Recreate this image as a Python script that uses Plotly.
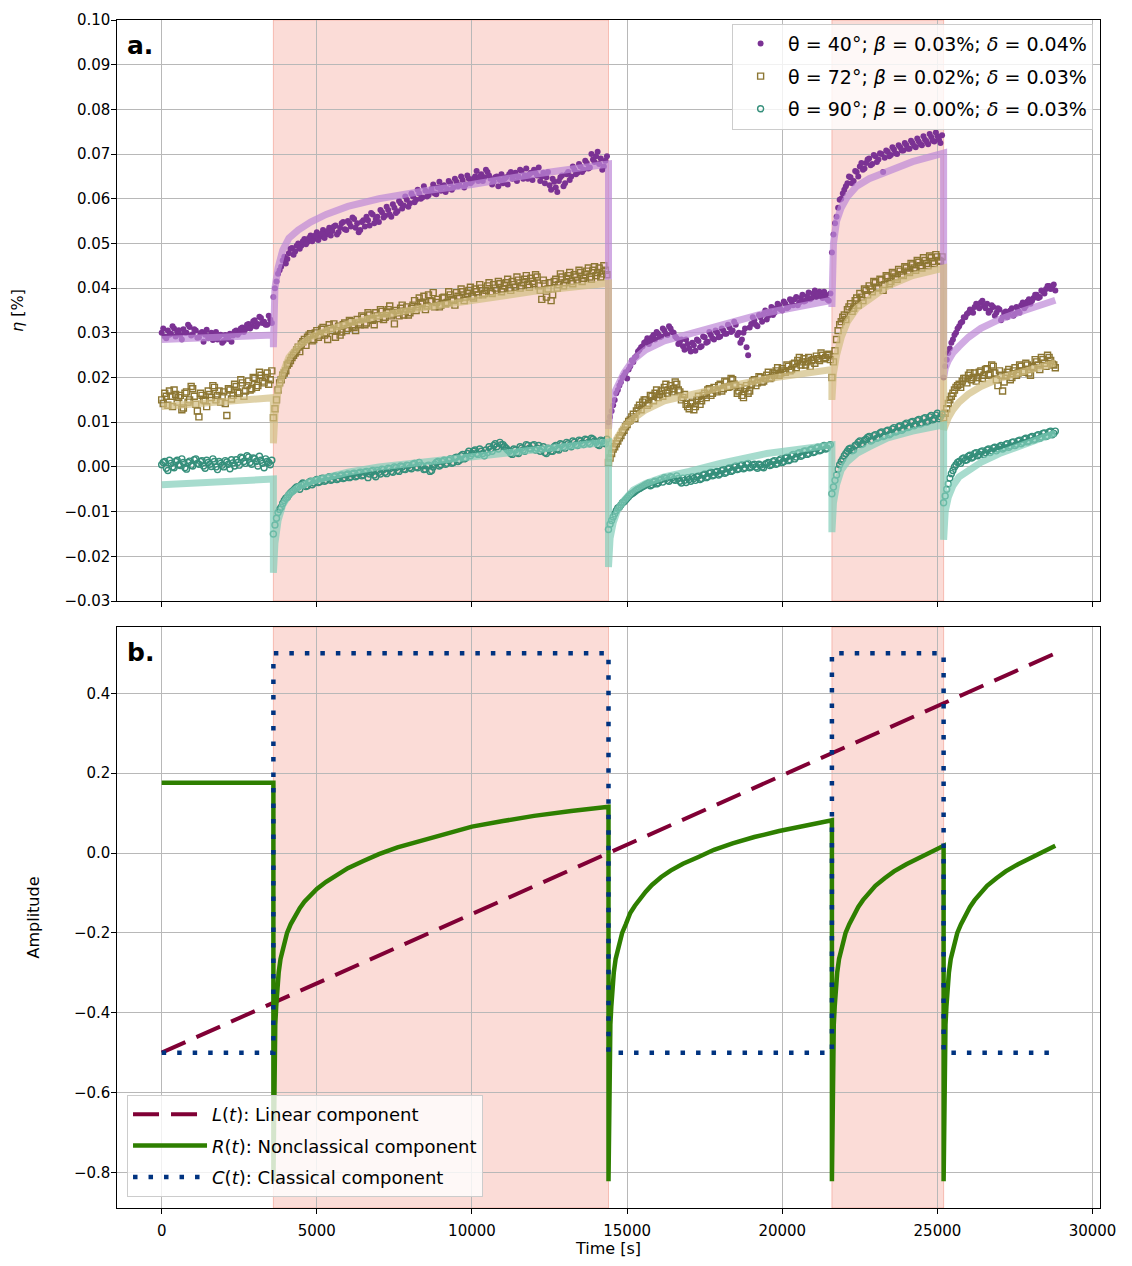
import plotly.graph_objects as go
from plotly.subplots import make_subplots

# ---------------- data ----------------
time_s = list(range(0, 28801, 100))      # sampling grid A
time_s_b = list(range(50, 28800, 100))   # sampling grid B (interleaved readings)

eta_40 = [
    0.0300, 0.0292, 0.0305, 0.0298, 0.0310, 0.0302, 0.0295, 0.0308, 0.0300, 0.0313, 0.0297, 0.0305,
    0.0290, 0.0302, 0.0296, 0.0288, 0.0300, 0.0293, 0.0285, 0.0296, 0.0282, 0.0290, 0.0298, 0.0294,
    0.0305, 0.0300, 0.0312, 0.0308, 0.0320, 0.0315, 0.0328, 0.0320, 0.0333, 0.0325, 0.0318, 0.0330,
    0.0380, 0.0415, 0.0440, 0.0462, 0.0455, 0.0478, 0.0490, 0.0482, 0.0500, 0.0495, 0.0510, 0.0503,
    0.0518, 0.0510, 0.0525, 0.0515, 0.0530, 0.0520, 0.0535, 0.0528, 0.0540, 0.0525, 0.0545, 0.0532,
    0.0550, 0.0538, 0.0555, 0.0545, 0.0530, 0.0552, 0.0560, 0.0540, 0.0565, 0.0555, 0.0548, 0.0570,
    0.0562, 0.0575, 0.0560, 0.0580, 0.0572, 0.0590, 0.0585, 0.0598, 0.0590, 0.0605, 0.0598, 0.0612,
    0.0603, 0.0618, 0.0608, 0.0622, 0.0612, 0.0625, 0.0618, 0.0630, 0.0622, 0.0635, 0.0625, 0.0638,
    0.0630, 0.0642, 0.0632, 0.0645, 0.0638, 0.0650, 0.0640, 0.0655, 0.0648, 0.0660, 0.0645, 0.0638,
    0.0650, 0.0642, 0.0635, 0.0648, 0.0655, 0.0645, 0.0658, 0.0650, 0.0662, 0.0652, 0.0645, 0.0658,
    0.0665, 0.0652, 0.0640, 0.0658, 0.0648, 0.0630, 0.0645, 0.0625, 0.0640, 0.0652, 0.0635, 0.0660,
    0.0650, 0.0665, 0.0658, 0.0672, 0.0665, 0.0680, 0.0670, 0.0688, 0.0695, 0.0678, 0.0665, 0.0685,
    0.0100, 0.0125, 0.0150, 0.0172, 0.0190, 0.0205, 0.0198, 0.0225, 0.0235, 0.0248, 0.0262, 0.0270,
    0.0280, 0.0275, 0.0290, 0.0285, 0.0298, 0.0292, 0.0305, 0.0295, 0.0310, 0.0300, 0.0288, 0.0280,
    0.0270, 0.0285, 0.0265, 0.0278, 0.0260, 0.0282, 0.0270, 0.0290, 0.0280, 0.0295, 0.0285, 0.0300,
    0.0292, 0.0305, 0.0298, 0.0312, 0.0305, 0.0318, 0.0300, 0.0285, 0.0310, 0.0250, 0.0320, 0.0328,
    0.0315, 0.0335, 0.0342, 0.0330, 0.0348, 0.0340, 0.0355, 0.0362, 0.0350, 0.0365, 0.0358, 0.0370,
    0.0375, 0.0362, 0.0378, 0.0370, 0.0382, 0.0375, 0.0388, 0.0380, 0.0392, 0.0378, 0.0385, 0.0372,
    0.0480, 0.0545, 0.0580, 0.0600, 0.0620, 0.0635, 0.0648, 0.0640, 0.0660, 0.0672, 0.0665, 0.0680,
    0.0690, 0.0678, 0.0695, 0.0688, 0.0700, 0.0692, 0.0705, 0.0698, 0.0710, 0.0700, 0.0715, 0.0708,
    0.0720, 0.0712, 0.0725, 0.0715, 0.0728, 0.0720, 0.0732, 0.0722, 0.0738, 0.0728, 0.0740, 0.0725,
    0.0200, 0.0240, 0.0265, 0.0285, 0.0300, 0.0315, 0.0325, 0.0335, 0.0345, 0.0350, 0.0358, 0.0362,
    0.0368, 0.0360, 0.0365, 0.0350, 0.0358, 0.0345, 0.0352, 0.0335, 0.0348, 0.0340, 0.0355, 0.0342,
    0.0350, 0.0362, 0.0355, 0.0370, 0.0365, 0.0378, 0.0385, 0.0380, 0.0392, 0.0398, 0.0405, 0.0400,
    0.0395,
]
eta_40_b = [
    0.0310, 0.0288, 0.0296, 0.0315, 0.0292, 0.0306, 0.0285, 0.0300, 0.0318, 0.0294, 0.0308, 0.0289,
    0.0299, 0.0280, 0.0307, 0.0293, 0.0284, 0.0302, 0.0292, 0.0278, 0.0295, 0.0286, 0.0280, 0.0303,
    0.0296, 0.0310, 0.0302, 0.0318, 0.0310, 0.0326, 0.0314, 0.0336, 0.0322, 0.0318, 0.0338, 0.0322,
    0.0400, 0.0432, 0.0448, 0.0470, 0.0465, 0.0488, 0.0475, 0.0495, 0.0488, 0.0505, 0.0498, 0.0512,
    0.0505, 0.0518, 0.0508, 0.0522, 0.0512, 0.0528, 0.0518, 0.0538, 0.0520, 0.0535, 0.0548, 0.0530,
    0.0545, 0.0558, 0.0535, 0.0525, 0.0548, 0.0538, 0.0552, 0.0568, 0.0545, 0.0560, 0.0575, 0.0558,
    0.0582, 0.0565, 0.0588, 0.0568, 0.0595, 0.0578, 0.0605, 0.0582, 0.0612, 0.0592, 0.0620, 0.0600,
    0.0628, 0.0605, 0.0615, 0.0632, 0.0610, 0.0638, 0.0628, 0.0615, 0.0640, 0.0620, 0.0645, 0.0628,
    0.0650, 0.0625, 0.0652, 0.0635, 0.0645, 0.0662, 0.0650, 0.0640, 0.0665, 0.0652, 0.0632, 0.0648,
    0.0628, 0.0655, 0.0645, 0.0632, 0.0660, 0.0652, 0.0640, 0.0665, 0.0645, 0.0668, 0.0655, 0.0642,
    0.0658, 0.0670, 0.0650, 0.0635, 0.0660, 0.0620, 0.0638, 0.0615, 0.0648, 0.0628, 0.0655, 0.0642,
    0.0672, 0.0655, 0.0678, 0.0660, 0.0685, 0.0668, 0.0700, 0.0682, 0.0705, 0.0690, 0.0672, 0.0695,
    0.0112, 0.0138, 0.0165, 0.0182, 0.0200, 0.0212, 0.0218, 0.0238, 0.0245, 0.0258, 0.0268, 0.0278,
    0.0288, 0.0282, 0.0295, 0.0302, 0.0290, 0.0310, 0.0298, 0.0315, 0.0302, 0.0292, 0.0275, 0.0285,
    0.0262, 0.0275, 0.0258, 0.0272, 0.0285, 0.0268, 0.0292, 0.0278, 0.0302, 0.0288, 0.0305, 0.0290,
    0.0310, 0.0298, 0.0318, 0.0302, 0.0325, 0.0295, 0.0278, 0.0300, 0.0268, 0.0312, 0.0335, 0.0318,
    0.0340, 0.0325, 0.0350, 0.0338, 0.0358, 0.0345, 0.0365, 0.0352, 0.0370, 0.0355, 0.0375, 0.0362,
    0.0380, 0.0368, 0.0385, 0.0372, 0.0390, 0.0378, 0.0395, 0.0385, 0.0382, 0.0392, 0.0375, 0.0388,
    0.0520, 0.0560, 0.0598, 0.0612, 0.0628, 0.0650, 0.0635, 0.0662, 0.0650, 0.0680, 0.0668, 0.0688,
    0.0675, 0.0698, 0.0682, 0.0702, 0.0660, 0.0708, 0.0695, 0.0715, 0.0702, 0.0720, 0.0708, 0.0725,
    0.0712, 0.0730, 0.0718, 0.0735, 0.0722, 0.0740, 0.0728, 0.0745, 0.0730, 0.0748, 0.0732, 0.0742,
    0.0225, 0.0255, 0.0278, 0.0295, 0.0310, 0.0322, 0.0335, 0.0342, 0.0352, 0.0345, 0.0365, 0.0355,
    0.0372, 0.0355, 0.0345, 0.0362, 0.0338, 0.0355, 0.0328, 0.0345, 0.0335, 0.0350, 0.0338, 0.0358,
    0.0345, 0.0368, 0.0360, 0.0375, 0.0372, 0.0385, 0.0378, 0.0395, 0.0388, 0.0405, 0.0398, 0.0408,
]

eta_72 = [
    0.0150, 0.0165, 0.0138, 0.0158, 0.0172, 0.0145, 0.0160, 0.0132, 0.0168, 0.0150, 0.0175, 0.0140,
    0.0112, 0.0160, 0.0148, 0.0170, 0.0155, 0.0178, 0.0160, 0.0145, 0.0168, 0.0115, 0.0172, 0.0160,
    0.0180, 0.0165, 0.0188, 0.0170, 0.0192, 0.0175, 0.0198, 0.0182, 0.0205, 0.0188, 0.0210, 0.0195,
    0.0110, 0.0150, 0.0188, 0.0205, 0.0215, 0.0232, 0.0245, 0.0255, 0.0268, 0.0275, 0.0285, 0.0290,
    0.0298, 0.0285, 0.0305, 0.0295, 0.0312, 0.0300, 0.0318, 0.0305, 0.0290, 0.0315, 0.0302, 0.0322,
    0.0310, 0.0325, 0.0312, 0.0330, 0.0318, 0.0335, 0.0322, 0.0340, 0.0328, 0.0345, 0.0332, 0.0348,
    0.0335, 0.0352, 0.0338, 0.0320, 0.0345, 0.0355, 0.0340, 0.0358, 0.0345, 0.0362, 0.0350, 0.0378,
    0.0365, 0.0352, 0.0385, 0.0370, 0.0358, 0.0375, 0.0362, 0.0380, 0.0368, 0.0385, 0.0372, 0.0390,
    0.0378, 0.0392, 0.0380, 0.0395, 0.0382, 0.0398, 0.0385, 0.0400, 0.0388, 0.0405, 0.0392, 0.0408,
    0.0395, 0.0410, 0.0398, 0.0412, 0.0400, 0.0415, 0.0402, 0.0418, 0.0405, 0.0420, 0.0408, 0.0422,
    0.0410, 0.0425, 0.0395, 0.0418, 0.0380, 0.0412, 0.0385, 0.0420, 0.0408, 0.0425, 0.0412, 0.0428,
    0.0415, 0.0430, 0.0418, 0.0435, 0.0422, 0.0438, 0.0425, 0.0440, 0.0428, 0.0445, 0.0432, 0.0440,
    0.0010, 0.0030, 0.0045, 0.0058, 0.0070, 0.0082, 0.0095, 0.0105, 0.0118, 0.0125, 0.0138, 0.0145,
    0.0150, 0.0142, 0.0158, 0.0165, 0.0155, 0.0170, 0.0178, 0.0165, 0.0182, 0.0175, 0.0185, 0.0168,
    0.0155, 0.0140, 0.0130, 0.0145, 0.0135, 0.0158, 0.0148, 0.0165, 0.0172, 0.0160, 0.0178, 0.0168,
    0.0185, 0.0175, 0.0190, 0.0180, 0.0195, 0.0182, 0.0170, 0.0160, 0.0175, 0.0165, 0.0185, 0.0195,
    0.0188, 0.0200, 0.0192, 0.0205, 0.0198, 0.0210, 0.0215, 0.0205, 0.0220, 0.0212, 0.0225, 0.0218,
    0.0232, 0.0238, 0.0228, 0.0242, 0.0235, 0.0225, 0.0240, 0.0248, 0.0238, 0.0250, 0.0245, 0.0252,
    0.0200, 0.0260, 0.0305, 0.0325, 0.0340, 0.0352, 0.0365, 0.0355, 0.0378, 0.0388, 0.0372, 0.0395,
    0.0405, 0.0392, 0.0412, 0.0400, 0.0418, 0.0408, 0.0425, 0.0415, 0.0432, 0.0420, 0.0438, 0.0428,
    0.0445, 0.0435, 0.0452, 0.0440, 0.0458, 0.0445, 0.0462, 0.0450, 0.0468, 0.0455, 0.0470, 0.0460,
    0.0110, 0.0130, 0.0150, 0.0165, 0.0178, 0.0185, 0.0192, 0.0198, 0.0205, 0.0195, 0.0210, 0.0200,
    0.0215, 0.0205, 0.0220, 0.0208, 0.0225, 0.0195, 0.0215, 0.0170, 0.0205, 0.0218, 0.0200, 0.0222,
    0.0210, 0.0225, 0.0212, 0.0228, 0.0205, 0.0222, 0.0235, 0.0218, 0.0240, 0.0225, 0.0245, 0.0230,
    0.0222,
]
eta_72_b = [
    0.0142, 0.0158, 0.0170, 0.0135, 0.0162, 0.0155, 0.0128, 0.0165, 0.0145, 0.0180, 0.0158, 0.0125,
    0.0165, 0.0150, 0.0135, 0.0162, 0.0182, 0.0150, 0.0170, 0.0158, 0.0142, 0.0175, 0.0152, 0.0185,
    0.0168, 0.0195, 0.0158, 0.0182, 0.0172, 0.0200, 0.0178, 0.0212, 0.0192, 0.0200, 0.0185, 0.0215,
    0.0130, 0.0172, 0.0195, 0.0210, 0.0228, 0.0238, 0.0250, 0.0262, 0.0258, 0.0280, 0.0272, 0.0295,
    0.0282, 0.0300, 0.0290, 0.0308, 0.0295, 0.0285, 0.0310, 0.0320, 0.0305, 0.0295, 0.0318, 0.0305,
    0.0328, 0.0315, 0.0305, 0.0322, 0.0338, 0.0318, 0.0345, 0.0330, 0.0318, 0.0338, 0.0352, 0.0330,
    0.0345, 0.0360, 0.0342, 0.0350, 0.0338, 0.0362, 0.0348, 0.0340, 0.0355, 0.0372, 0.0358, 0.0368,
    0.0382, 0.0360, 0.0372, 0.0390, 0.0368, 0.0358, 0.0378, 0.0365, 0.0392, 0.0375, 0.0362, 0.0382,
    0.0398, 0.0372, 0.0388, 0.0402, 0.0378, 0.0392, 0.0408, 0.0385, 0.0395, 0.0412, 0.0388, 0.0400,
    0.0415, 0.0392, 0.0405, 0.0420, 0.0395, 0.0408, 0.0425, 0.0400, 0.0412, 0.0428, 0.0402, 0.0415,
    0.0430, 0.0405, 0.0375, 0.0410, 0.0398, 0.0372, 0.0415, 0.0400, 0.0432, 0.0405, 0.0420, 0.0435,
    0.0410, 0.0425, 0.0440, 0.0415, 0.0430, 0.0445, 0.0420, 0.0448, 0.0435, 0.0425, 0.0450, 0.0430,
    0.0020, 0.0040, 0.0052, 0.0065, 0.0078, 0.0090, 0.0102, 0.0112, 0.0108, 0.0132, 0.0128, 0.0150,
    0.0138, 0.0160, 0.0148, 0.0172, 0.0162, 0.0158, 0.0185, 0.0172, 0.0168, 0.0190, 0.0172, 0.0150,
    0.0162, 0.0135, 0.0142, 0.0128, 0.0150, 0.0140, 0.0160, 0.0155, 0.0175, 0.0165, 0.0172, 0.0182,
    0.0170, 0.0192, 0.0178, 0.0198, 0.0185, 0.0165, 0.0178, 0.0155, 0.0182, 0.0170, 0.0192, 0.0182,
    0.0202, 0.0190, 0.0198, 0.0212, 0.0200, 0.0205, 0.0222, 0.0210, 0.0215, 0.0228, 0.0215, 0.0230,
    0.0222, 0.0245, 0.0235, 0.0228, 0.0245, 0.0238, 0.0232, 0.0242, 0.0255, 0.0242, 0.0250, 0.0240,
    0.0235, 0.0285, 0.0318, 0.0335, 0.0330, 0.0358, 0.0348, 0.0372, 0.0362, 0.0380, 0.0398, 0.0385,
    0.0398, 0.0415, 0.0402, 0.0420, 0.0395, 0.0428, 0.0410, 0.0435, 0.0425, 0.0442, 0.0430, 0.0448,
    0.0438, 0.0455, 0.0445, 0.0462, 0.0450, 0.0468, 0.0455, 0.0472, 0.0460, 0.0475, 0.0462, 0.0470,
    0.0120, 0.0142, 0.0158, 0.0172, 0.0182, 0.0178, 0.0198, 0.0188, 0.0210, 0.0200, 0.0192, 0.0212,
    0.0198, 0.0218, 0.0205, 0.0228, 0.0210, 0.0182, 0.0205, 0.0190, 0.0212, 0.0195, 0.0215, 0.0205,
    0.0228, 0.0215, 0.0232, 0.0210, 0.0225, 0.0240, 0.0228, 0.0245, 0.0232, 0.0250, 0.0238, 0.0228,
]

eta_90 = [
    0.0005, 0.0012, -0.0008, 0.0008, -0.0002, 0.0015, 0.0003, 0.0010, -0.0005, 0.0013, 0.0002, 0.0018,
    0.0006, 0.0014, -0.0003, 0.0010, 0.0001, 0.0012, -0.0006, 0.0008, 0.0000, 0.0011, -0.0004, 0.0009,
    0.0016, 0.0004, 0.0020, 0.0008, 0.0022, 0.0006, 0.0018, 0.0002, 0.0015, -0.0002, 0.0012, 0.0005,
    -0.0150, -0.0115, -0.0095, -0.0082, -0.0070, -0.0062, -0.0055, -0.0048, -0.0045, -0.0040, -0.0038, -0.0042,
    -0.0032, -0.0036, -0.0028, -0.0033, -0.0025, -0.0030, -0.0022, -0.0028, -0.0020, -0.0026, -0.0018, -0.0024,
    -0.0016, -0.0022, -0.0014, -0.0020, -0.0012, -0.0018, -0.0010, -0.0016, -0.0008, -0.0022, -0.0012, -0.0005,
    -0.0012, -0.0003, -0.0010, 0.0000, -0.0008, 0.0002, -0.0005, 0.0004, -0.0002, 0.0006, 0.0000, 0.0010,
    0.0002, -0.0005, 0.0004, -0.0008, 0.0006, 0.0012, 0.0005, 0.0015, 0.0008, 0.0018, 0.0010, 0.0022,
    0.0015, 0.0028, 0.0020, 0.0035, 0.0030, 0.0038, 0.0028, 0.0035, 0.0025, 0.0032, 0.0040, 0.0048,
    0.0045, 0.0055, 0.0050, 0.0042, 0.0035, 0.0028, 0.0038, 0.0030, 0.0042, 0.0035, 0.0048, 0.0040,
    0.0050, 0.0042, 0.0035, 0.0045, 0.0030, 0.0040, 0.0035, 0.0048, 0.0038, 0.0050, 0.0042, 0.0052,
    0.0045, 0.0055, 0.0048, 0.0058, 0.0050, 0.0060, 0.0052, 0.0062, 0.0055, 0.0048, 0.0058, 0.0052,
    -0.0140, -0.0120, -0.0105, -0.0092, -0.0085, -0.0078, -0.0070, -0.0062, -0.0058, -0.0052, -0.0048, -0.0044,
    -0.0040, -0.0036, -0.0040, -0.0032, -0.0036, -0.0028, -0.0024, -0.0030, -0.0022, -0.0028, -0.0020, -0.0032,
    -0.0025, -0.0035, -0.0028, -0.0022, -0.0030, -0.0020, -0.0026, -0.0016, -0.0022, -0.0012, -0.0018, -0.0010,
    -0.0015, -0.0006, -0.0012, -0.0002, -0.0008, 0.0002, -0.0004, 0.0005, -0.0002, 0.0008, 0.0000, 0.0006,
    -0.0003, 0.0004, -0.0002, 0.0008, 0.0003, 0.0012, 0.0006, 0.0015, 0.0010, 0.0020, 0.0014, 0.0025,
    0.0018, 0.0030, 0.0024, 0.0035, 0.0028, 0.0038, 0.0032, 0.0042, 0.0036, 0.0046, 0.0040, 0.0048,
    -0.0060, -0.0030, -0.0005, 0.0012, 0.0025, 0.0035, 0.0042, 0.0038, 0.0050, 0.0058, 0.0052, 0.0062,
    0.0068, 0.0060, 0.0072, 0.0066, 0.0078, 0.0070, 0.0082, 0.0075, 0.0088, 0.0080, 0.0092, 0.0085,
    0.0098, 0.0090, 0.0102, 0.0095, 0.0106, 0.0098, 0.0110, 0.0102, 0.0115, 0.0108, 0.0120, 0.0112,
    -0.0080, -0.0050, -0.0025, -0.0008, 0.0005, 0.0012, 0.0018, 0.0015, 0.0024, 0.0020, 0.0030, 0.0025,
    0.0034, 0.0028, 0.0038, 0.0032, 0.0042, 0.0036, 0.0045, 0.0040, 0.0050, 0.0044, 0.0055, 0.0048,
    0.0058, 0.0052, 0.0062, 0.0056, 0.0066, 0.0060, 0.0070, 0.0064, 0.0075, 0.0068, 0.0078, 0.0072,
    0.0080,
]
eta_90_b = [
    0.0010, -0.0003, 0.0015, 0.0000, 0.0012, 0.0005, 0.0018, -0.0002, 0.0010, 0.0004, 0.0016, 0.0008,
    0.0012, 0.0002, 0.0015, 0.0006, 0.0018, 0.0000, 0.0012, 0.0004, 0.0014, 0.0006, 0.0016, 0.0002,
    0.0010, 0.0022, 0.0012, 0.0025, 0.0010, 0.0020, 0.0012, 0.0024, 0.0008, 0.0018, 0.0010, 0.0015,
    -0.0130, -0.0102, -0.0090, -0.0075, -0.0068, -0.0058, -0.0052, -0.0045, -0.0050, -0.0036, -0.0044, -0.0034,
    -0.0040, -0.0030, -0.0035, -0.0026, -0.0032, -0.0024, -0.0030, -0.0022, -0.0028, -0.0020, -0.0026, -0.0018,
    -0.0024, -0.0016, -0.0022, -0.0014, -0.0020, -0.0012, -0.0024, -0.0010, -0.0018, -0.0008, -0.0016, -0.0006,
    -0.0015, -0.0004, -0.0012, -0.0002, -0.0010, 0.0000, -0.0006, 0.0003, -0.0004, 0.0008, -0.0002, 0.0004,
    -0.0006, 0.0002, -0.0010, 0.0000, 0.0010, 0.0002, 0.0012, 0.0006, 0.0015, 0.0008, 0.0020, 0.0012,
    0.0025, 0.0018, 0.0030, 0.0025, 0.0035, 0.0030, 0.0040, 0.0030, 0.0038, 0.0045, 0.0035, 0.0052,
    0.0040, 0.0050, 0.0045, 0.0038, 0.0030, 0.0040, 0.0032, 0.0045, 0.0038, 0.0050, 0.0042, 0.0048,
    0.0038, 0.0048, 0.0040, 0.0032, 0.0042, 0.0035, 0.0045, 0.0040, 0.0052, 0.0045, 0.0055, 0.0048,
    0.0058, 0.0050, 0.0060, 0.0053, 0.0062, 0.0055, 0.0064, 0.0058, 0.0050, 0.0060, 0.0054, 0.0062,
    -0.0128, -0.0112, -0.0098, -0.0090, -0.0080, -0.0074, -0.0066, -0.0060, -0.0055, -0.0050, -0.0046, -0.0042,
    -0.0038, -0.0042, -0.0034, -0.0038, -0.0030, -0.0034, -0.0026, -0.0032, -0.0024, -0.0030, -0.0026, -0.0036,
    -0.0030, -0.0024, -0.0032, -0.0026, -0.0022, -0.0028, -0.0018, -0.0024, -0.0014, -0.0020, -0.0012, -0.0018,
    -0.0008, -0.0014, -0.0004, -0.0010, 0.0000, -0.0006, 0.0003, -0.0004, 0.0006, -0.0002, 0.0004, 0.0000,
    0.0006, 0.0000, 0.0006, 0.0010, 0.0005, 0.0014, 0.0008, 0.0018, 0.0012, 0.0022, 0.0016, 0.0028,
    0.0022, 0.0032, 0.0026, 0.0036, 0.0030, 0.0040, 0.0034, 0.0044, 0.0038, 0.0048, 0.0042, 0.0050,
    -0.0045, -0.0018, 0.0005, 0.0018, 0.0030, 0.0040, 0.0036, 0.0048, 0.0055, 0.0050, 0.0060, 0.0066,
    0.0058, 0.0070, 0.0064, 0.0076, 0.0068, 0.0080, 0.0072, 0.0085, 0.0078, 0.0090, 0.0082, 0.0095,
    0.0088, 0.0100, 0.0092, 0.0104, 0.0096, 0.0108, 0.0100, 0.0112, 0.0105, 0.0116, 0.0108, 0.0118,
    -0.0065, -0.0038, -0.0015, 0.0000, 0.0010, 0.0008, 0.0020, 0.0016, 0.0026, 0.0022, 0.0032, 0.0028,
    0.0036, 0.0032, 0.0040, 0.0036, 0.0044, 0.0040, 0.0048, 0.0043, 0.0052, 0.0047, 0.0056, 0.0051,
    0.0060, 0.0055, 0.0064, 0.0058, 0.0068, 0.0062, 0.0072, 0.0067, 0.0076, 0.0070, 0.0080, 0.0075,
]

fit_t = [0, 3600, 3600, 3650, 3750, 3820, 3900, 4100, 4400, 4800, 5300, 6000, 7000, 8500, 10000, 12000, 14400,
         14400, 14450, 14550, 14700, 14900, 15200, 15600, 16200, 17000, 18000, 19500, 21600,
         21600, 21650, 21750, 21900, 22100, 22400, 22800, 23400, 24200, 25200,
         25200, 25250, 25350, 25500, 25700, 26000, 26400, 27000, 27800, 28800]

fit_40 = [0.0285, 0.0295, 0.0268, 0.0400, 0.0445, 0.0470, 0.0485, 0.0512, 0.0530, 0.0548, 0.0565, 0.0583, 0.0600, 0.0618, 0.0632, 0.0655, 0.0678,
          0.0085, 0.0130, 0.0160, 0.0185, 0.0210, 0.0240, 0.0262, 0.0282, 0.0298, 0.0318, 0.0345, 0.0373,
          0.0358, 0.0500, 0.0550, 0.0580, 0.0605, 0.0628, 0.0645, 0.0660, 0.0683, 0.0702,
          0.0200, 0.0220, 0.0238, 0.0255, 0.0270, 0.0290, 0.0310, 0.0330, 0.0350, 0.0373]

fit_72 = [0.0135, 0.0155, 0.0053, 0.0120, 0.0170, 0.0195, 0.0210, 0.0245, 0.0270, 0.0290, 0.0305, 0.0320, 0.0338, 0.0357, 0.0373, 0.0393, 0.0411,
          0.0005, 0.0030, 0.0050, 0.0068, 0.0090, 0.0108, 0.0128, 0.0148, 0.0162, 0.0177, 0.0197, 0.0218,
          0.0150, 0.0210, 0.0250, 0.0290, 0.0325, 0.0355, 0.0375, 0.0405, 0.0428, 0.0445,
          0.0083, 0.0095, 0.0110, 0.0128, 0.0145, 0.0163, 0.0180, 0.0198, 0.0215, 0.0233]

fit_90 = [-0.0040, -0.0027, -0.0237, -0.0170, -0.0120, -0.0097, -0.0085, -0.0062, -0.0045, -0.0033, -0.0024, -0.0012, 0.0000, 0.0012, 0.0022, 0.0040, 0.0056,
          -0.0224, -0.0160, -0.0125, -0.0095, -0.0075, -0.0052, -0.0037, -0.0022, -0.0010, 0.0008, 0.0030, 0.0049,
          -0.0146, -0.0080, -0.0040, -0.0007, 0.0012, 0.0030, 0.0045, 0.0065, 0.0080, 0.0094,
          -0.0163, -0.0100, -0.0068, -0.0042, -0.0022, -0.0007, 0.0010, 0.0030, 0.0052, 0.0076]

L_t = [0, 28800]
L_v = [-0.5, 0.5]

R_t = [0, 3600,
       3600, 3615, 3630, 3660, 3690, 3720, 3770, 3830, 3920, 4040, 4160, 4300, 4450, 4600, 4800, 5000,
       5300, 5600, 6000, 6500, 7000, 7600, 8300, 9100, 10000, 11000, 12000, 13200, 14400,
       14400, 14415, 14430, 14460, 14490, 14520, 14570, 14630, 14720, 14840, 14960, 15100, 15250, 15400,
       15600, 15800, 16100, 16400, 16800, 17300, 17800, 18400, 19100, 19900, 20700, 21600,
       21600, 21615, 21630, 21660, 21690, 21720, 21770, 21830, 21920, 22040, 22160, 22300, 22450, 22600,
       22800, 23000, 23300, 23600, 24000, 24500, 25000, 25200,
       25200, 25215, 25230, 25260, 25290, 25320, 25370, 25430, 25520, 25640, 25760, 25900, 26050, 26200,
       26400, 26600, 26900, 27200, 27600, 28100, 28600, 28800]
R_v = [0.176, 0.176,
       -0.822, -0.62, -0.52, -0.43, -0.385, -0.345, -0.300, -0.265, -0.232, -0.200, -0.178, -0.158, -0.138, -0.122, -0.105, -0.090,
       -0.072, -0.056, -0.038, -0.020, -0.003, 0.014, 0.030, 0.047, 0.066, 0.080, 0.093, 0.105, 0.116,
       -0.822, -0.62, -0.52, -0.43, -0.385, -0.345, -0.300, -0.265, -0.232, -0.200, -0.178, -0.150, -0.132, -0.115,
       -0.097, -0.080, -0.060, -0.044, -0.027, -0.010, 0.008, 0.024, 0.040, 0.055, 0.068, 0.082,
       -0.822, -0.62, -0.52, -0.43, -0.385, -0.345, -0.300, -0.265, -0.232, -0.200, -0.178, -0.155, -0.135, -0.118,
       -0.100, -0.082, -0.063, -0.046, -0.028, -0.010, 0.008, 0.018,
       -0.822, -0.62, -0.52, -0.43, -0.385, -0.345, -0.300, -0.265, -0.232, -0.200, -0.178, -0.155, -0.135, -0.118,
       -0.100, -0.082, -0.063, -0.046, -0.028, -0.010, 0.008, 0.018]

C_t = [0, 3600, 3600, 14400, 14400, 21600, 21600, 25200, 25200, 28800]
C_v = [-0.5, -0.5, 0.5, 0.5, -0.5, -0.5, 0.5, 0.5, -0.5, -0.5]

light_on = [(3600, 14400), (21600, 25200)]

labels = ["θ = 40°; <i>β</i> = 0.03%; <i>δ</i> = 0.04%",
          "θ = 72°; <i>β</i> = 0.02%; <i>δ</i> = 0.03%",
          "θ = 90°; <i>β</i> = 0.00%; <i>δ</i> = 0.03%"]

# ---------------- figure ----------------
FONT = "DejaVu Sans"
fig = make_subplots(rows=2, cols=1, shared_xaxes=True, vertical_spacing=26 / 1188)

data_cols = ["#7b3294", "#8c7632", "#358f7b"]
fit_cols = ["rgba(190,135,215,0.7)", "rgba(210,190,130,0.7)", "rgba(130,205,185,0.7)"]
symbols = ["circle", "square-open", "circle-open"]
series = [(eta_40, eta_40_b), (eta_72, eta_72_b), (eta_90, eta_90_b)]
fits = [fit_40, fit_72, fit_90]

for i in range(3):
    mk = dict(color=data_cols[i], size=6, symbol=symbols[i])
    if i > 0:
        mk["line"] = dict(color=data_cols[i], width=1.4)
    fig.add_trace(go.Scatter(x=time_s + time_s_b, y=series[i][0] + series[i][1], mode="markers",
                             marker=mk, name=labels[i], legend="legend", legendgroup=f"g{i}",
                             hoverinfo="skip"), row=1, col=1)
for i in range(3):
    fig.add_trace(go.Scatter(x=fit_t, y=fits[i], mode="lines",
                             line=dict(color=fit_cols[i], width=7),
                             showlegend=False, hoverinfo="skip"), row=1, col=1)

fig.add_trace(go.Scatter(x=L_t, y=L_v, mode="lines", name="<i>L</i>(<i>t</i>): Linear component",
                         line=dict(color="#800035", width=4, dash="26px,12px"),
                         legend="legend2", legendgroup="l1"), row=2, col=1)
fig.add_trace(go.Scatter(x=R_t, y=R_v, mode="lines", name="<i>R</i>(<i>t</i>): Nonclassical component",
                         line=dict(color="#2e7f00", width=4.5),
                         legend="legend2", legendgroup="l2"), row=2, col=1)
fig.add_trace(go.Scatter(x=C_t, y=C_v, mode="lines", name="<i>C</i>(<i>t</i>): Classical component",
                         line=dict(color="#003380", width=4.5, dash="4.5px,11px"),
                         legend="legend2", legendgroup="l3"), row=2, col=1)

for (a, b) in light_on:
    for yref in ["y domain", "y2 domain"]:
        xref = "x" if yref == "y domain" else "x2"
        fig.add_shape(type="rect", x0=a, x1=b, y0=0, y1=1, xref=xref, yref=yref,
                      fillcolor="rgba(240,128,110,0.28)",
                      line=dict(color="rgba(240,128,110,0.45)", width=1), layer="below")

axis_common = dict(showline=True, linecolor="black", linewidth=1.2, mirror=True,
                   ticks="outside", ticklen=4.5, tickwidth=1.1, tickcolor="black",
                   showgrid=True, gridcolor="#b8b8b8", gridwidth=1.2, zeroline=False,
                   automargin=False,
                   tickfont=dict(family=FONT, size=15, color="black"))

fig.update_xaxes(**axis_common)
fig.update_yaxes(**axis_common)

title_font = dict(family=FONT, size=16, color="black")
fig.update_xaxes(range=[-1440, 30240], dtick=5000, tick0=0, tickformat="d", row=1, col=1,
                 showticklabels=False)
fig.update_xaxes(range=[-1440, 30240], dtick=5000, tick0=0, tickformat="d", row=2, col=1,
                 ticklabelstandoff=4,
                 title=dict(text="Time [s]", font=title_font, standoff=12))
fig.update_yaxes(range=[-0.03, 0.10], dtick=0.01, tick0=0, tickformat=".2f", row=1, col=1,
                 domain=[1 - 581 / 1188, 1], ticklabelstandoff=-2,
                 title=dict(text="<i>η</i> [%]", font=title_font, standoff=40))
fig.update_yaxes(range=[-0.889, 0.566], dtick=0.2, tick0=0, tickformat=".1f", row=2, col=1,
                 domain=[0, 581 / 1188], ticklabelstandoff=-2,
                 title=dict(text="Amplitude", font=title_font, standoff=30))

fig.add_annotation(text="<b>a.</b>", xref="x domain", yref="y domain", x=0.008, y=0.985,
                   xanchor="left", yanchor="top", showarrow=False,
                   font=dict(family=FONT, size=25, color="black"))
fig.add_annotation(text="<b>b.</b>", xref="x2 domain", yref="y2 domain", x=0.008, y=0.985,
                   xanchor="left", yanchor="top", showarrow=False,
                   font=dict(family=FONT, size=25, color="black"))

legend_common = dict(bgcolor="rgba(255,255,255,0.8)", bordercolor="#cccccc", borderwidth=1,
                     tracegroupgap=5)

fig.update_layout(
    width=1116, height=1250,
    margin=dict(l=109, r=24, t=12, b=50, autoexpand=False),
    paper_bgcolor="white", plot_bgcolor="white",
    font=dict(family=FONT, size=15, color="black"),
    legend=dict(x=0.993, y=0.997, xanchor="right", yanchor="top", itemwidth=45,
                font=dict(family=FONT, size=19, color="black"), **legend_common),
    legend2=dict(x=0.0102, y=0.0093, xanchor="left", yanchor="bottom", itemwidth=74,
                 font=dict(family=FONT, size=18, color="black"), **legend_common),
)

fig.write_html("out.html")
